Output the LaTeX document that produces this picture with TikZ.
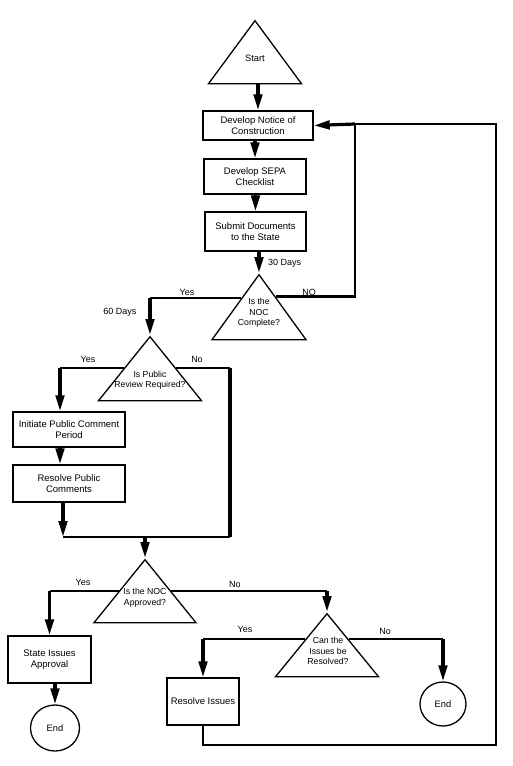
\documentclass[tikz,border=0pt]{standalone}
\usepackage{fontspec}
\setmainfont{Liberation Sans}
\usetikzlibrary{arrows.meta, positioning, calc, shapes.geometric}
\tikzset{
  box/.style={
    draw, line width=1.4pt, align=center, inner sep=0pt,
    font=\fontsize{9.5}{11}\selectfont
  },
  tri/.style={
    draw, line width=1.3pt, isosceles triangle, isosceles triangle stretches,
    shape border rotate=90, inner sep=0pt, anchor=apex
  },
  endc/.style={draw, line width=1.3pt, ellipse, inner sep=0pt,
    font=\fontsize{9.3}{11}\selectfont},
  qtext/.style={align=center, inner sep=0pt, font=\fontsize{8.7}{10.5}\selectfont},
  lab/.style={inner sep=0pt, font=\fontsize{9}{10}\selectfont},
  flow/.style={line width=2.2pt},
  arr/.style={line width=3.2pt, -{Triangle[length=16pt,width=8.5pt]}}
}
\begin{document}
\begin{tikzpicture}[x=1pt, y=-1pt]
  \useasboundingbox (0,0) rectangle (512,766);

  % start and the three first steps
  \node[tri, minimum width=93, minimum height=63] (start) at (255,19) {};
  \node[qtext, font=\fontsize{9.3}{11}\selectfont] (startt) at (255,58) {Start};
  \node[box, minimum width=110, minimum height=29] (dnoc) at (258,125.5)
    {Develop Notice of\\Construction};
  \node[box, minimum width=102, minimum height=35] (dsepa) at (255,176.5)
    {Develop SEPA\\Checklist};
  \node[box, minimum width=101, minimum height=39] (sub) at (255.5,231.5)
    {Submit Documents\\to the State};

  % questions
  \node[tri, minimum width=94, minimum height=65] (q1) at (259,273) {};
  \node[qtext] (q1t) at (259,313) {Is the\\NOC\\Complete?};
  \node[tri, minimum width=103, minimum height=64] (q2) at (150,335) {};
  \node[qtext] (q2t) at (150,380) {Is Public\\Review Required?};
  \node[tri, minimum width=102, minimum height=63] (q3) at (145,558) {};
  \node[qtext] (q3t) at (145,597.5) {Is the NOC\\Approved?};
  \node[tri, minimum width=103, minimum height=63] (q4) at (327,612) {};
  \node[qtext] (q4t) at (328,651) {Can the\\Issues be\\Resolved?};

  % public comment branch
  \node[box, minimum width=112, minimum height=35] (ipc) at (69,429.5)
    {Initiate Public Comment\\Period};
  \node[box, minimum width=112, minimum height=37] (rpc) at (69,483.5)
    {Resolve Public\\Comments};

  % end of the process
  \node[box, minimum width=83, minimum height=47] (sia) at (49.5,659.5)
    {State Issues\\Approval};
  \node[endc, minimum width=49, minimum height=46] (end1) at (55,728) {End};
  \node[box, minimum width=72, minimum height=47] (ri) at (203,701.5)
    {Resolve Issues};
  \node[endc, minimum width=46, minimum height=44] (end2) at (443,704) {End};

  % labels
  \node[lab, anchor=west] (d30) at (268,263) {30 Days};
  \node[lab] (y1) at (187,292) {Yes};
  \node[lab] (n1) at (309,292) {NO};
  \node[lab] (d60) at (120,312) {60 Days};
  \node[lab] (y2) at (88,359) {Yes};
  \node[lab] (n2) at (197,359) {No};
  \node[lab] (y3) at (83,582) {Yes};
  \node[lab] (n3) at (235,584) {No};
  \node[lab] (y4) at (245,629) {Yes};
  \node[lab] (n4) at (385,631) {No};

  \coordinate (q1l) at ($(q1.apex)!0.37!(q1.left corner)$);
  \coordinate (q1r) at ($(q1.apex)!0.35!(q1.right corner)$);
  \coordinate (q4l) at ($(q4.apex)!0.41!(q4.left corner)$);
  \coordinate (q4r) at ($(q4.apex)!0.41!(q4.right corner)$);
  \coordinate (loopa) at (355,124);
  \coordinate (rbot) at (496,745);
  \coordinate (yes2) at ($(ipc.north)+(-9,0)$);
  \coordinate (mleft) at (63,537);
  \coordinate (mright) at (230,537);

  % main line
  \draw[arr] (start.lower side -| dnoc.north) -- (dnoc.north);
  \draw[arr] (dnoc.south -| dsepa.north) -- (dsepa.north);
  \draw[arr] (dsepa.south -| sub.south) -- (sub.south |- sub.north);
  \draw[arr] (q1.apex |- sub.south) -- (q1.apex);

  % NOC complete?
  \draw[flow] (q1r) -| (loopa);
  \draw[arr] (loopa) -- (dnoc.east);
  \draw[flow] (q1l) -- (q1l -| q2.apex);
  \draw[arr] (q1l -| q2.apex) -- (q2.apex);

  % public review?
  \draw[flow] (q2.left side) -- (q2.left side -| yes2);
  \draw[arr] (q2.left side -| yes2) -- (yes2);
  \draw[arr] (yes2 |- ipc.south) -- (yes2 |- rpc.north);
  \draw[flow] (q2.right side) -- (q2.right side -| mright);
  \draw[line width=3.2pt] (q2.right side -| mright) -- (mright);
  \draw[flow] (mright) -- (mleft);
  \draw[arr] (mleft |- rpc.south) -- (mleft);
  \draw[arr] (mleft -| q3.apex) -- (q3.apex);

  % NOC approved?
  \draw[flow] (q3.left side) -- (q3.left side -| sia.north);
  \draw[arr] (q3.left side -| sia.north) -- (sia.north);
  \draw[arr] (end1.north |- sia.south) -- (end1.north);
  \draw[flow] (q3.right side) -- (q3.right side -| q4.apex);
  \draw[arr] (q3.right side -| q4.apex) -- (q4.apex);

  % can the issues be resolved?
  \draw[flow] (q4l) -- (q4l -| ri.north);
  \draw[arr] (q4l -| ri.north) -- (ri.north);
  \draw[flow] (q4r) -- (q4r -| end2.north);
  \draw[arr] (q4r -| end2.north) -- (end2.north);
  \draw[flow] (ri.south) |- (rbot) |- (loopa);
\end{tikzpicture}
\end{document}
